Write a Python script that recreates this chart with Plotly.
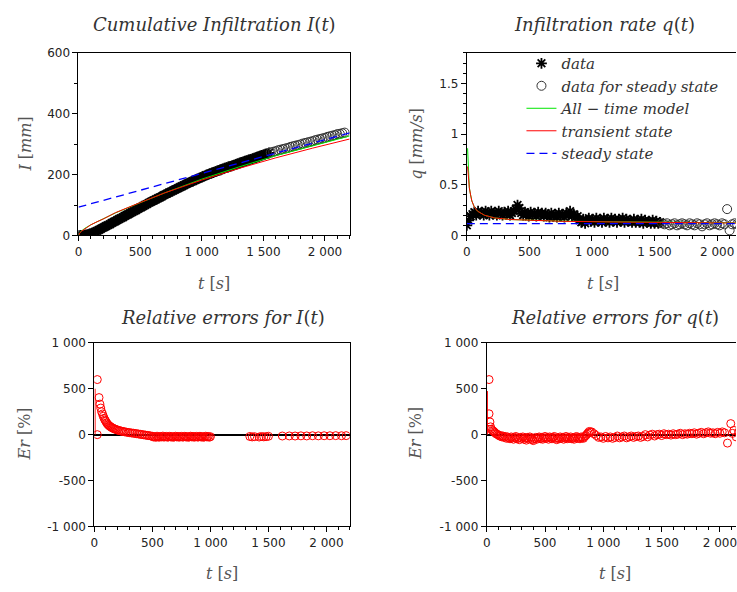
import plotly.graph_objects as go

W, H = 737, 592

# ---------------- data ----------------
# measured data (asterisks), shared time grid [s]
t_data = [0, 15, 30, 45, 60, 75, 90, 105, 120, 135,
          150, 165, 180, 195, 210, 225, 240, 255, 270, 285,
          300, 315, 330, 345, 360, 375, 390, 405, 420, 435,
          450, 465, 480, 495, 510, 525, 540, 555, 570, 585,
          600, 615, 630, 645, 660, 675, 690, 705, 720, 735,
          750, 765, 780, 795, 810, 825, 840, 855, 870, 885,
          900, 915, 930, 945, 960, 975, 990, 1005, 1020, 1035,
          1050, 1065, 1080, 1095, 1110, 1125, 1140, 1155, 1170, 1185,
          1200, 1215, 1230, 1245, 1260, 1275, 1290, 1305, 1320, 1335,
          1350, 1365, 1380, 1395, 1410, 1425, 1440, 1455, 1470, 1485,
          1500, 1515, 1530, 1545]
I_data = [0, 0, 0, 1, 2, 3, 5, 7, 9, 12,
          15, 18, 21, 25, 28, 31, 34, 37, 41, 44,
          47, 51, 54, 57, 60, 64, 67, 70, 74, 77,
          80, 83, 87, 90, 93, 97, 100, 103, 107, 110,
          113, 116, 119, 122, 125, 128, 132, 135, 138, 141,
          144, 147, 150, 153, 156, 159, 162, 165, 168, 171,
          174, 177, 179, 182, 185, 187, 190, 193, 195, 198,
          200, 203, 205, 207, 210, 212, 214, 216, 219, 221,
          223, 225, 227, 229, 231, 233, 235, 238, 240, 242,
          244, 246, 248, 250, 252, 254, 256, 258, 261, 263,
          265, 267, 269, 271]
q_data = [0.10, 0.15, 0.19, 0.21, 0.23, 0.20, 0.24, 0.21, 0.23, 0.20,
          0.24, 0.22, 0.20, 0.24, 0.21, 0.23, 0.20, 0.24, 0.22, 0.20,
          0.23, 0.21, 0.24, 0.20, 0.22, 0.24, 0.26, 0.30, 0.27, 0.22,
          0.20, 0.23, 0.21, 0.19, 0.23, 0.20, 0.22, 0.19, 0.23, 0.20,
          0.22, 0.19, 0.22, 0.20, 0.18, 0.22, 0.19, 0.21, 0.18, 0.22,
          0.19, 0.21, 0.18, 0.22, 0.20, 0.24, 0.19, 0.21, 0.18, 0.19,
          0.15, 0.13, 0.16, 0.12, 0.15, 0.17, 0.14, 0.16, 0.13, 0.17,
          0.14, 0.16, 0.13, 0.17, 0.14, 0.16, 0.13, 0.17, 0.14, 0.16,
          0.13, 0.16, 0.14, 0.17, 0.13, 0.16, 0.14, 0.15, 0.13, 0.16,
          0.13, 0.15, 0.13, 0.16, 0.12, 0.15, 0.13, 0.14, 0.12, 0.15,
          0.12, 0.14, 0.12, 0.13]

# data used for steady state (circles)
t_ss = [1560, 1580, 1600, 1620, 1640, 1660, 1680, 1700, 1720, 1740, 1760, 1780, 1800, 1820,
        1840, 1860, 1880, 1900, 1920, 1940, 1960, 1980, 2000, 2020, 2040, 2060, 2080, 2100,
        2120, 2140, 2160]
I_ss = [273, 275, 277, 280, 282, 284, 286, 288, 291, 293, 295, 297, 299, 302,
        304, 306, 308, 310, 313, 315, 317, 319, 321, 324, 326, 328, 330, 333,
        334, 336, 338]
q_ss = [0.12, 0.11, 0.12, 0.10, 0.11, 0.12, 0.10, 0.11, 0.12, 0.11, 0.10, 0.12, 0.11, 0.10,
        0.12, 0.11, 0.09, 0.11, 0.12, 0.10, 0.11, 0.12, 0.11, 0.10, 0.12, 0.11, 0.26, 0.05,
        0.11, 0.12, 0.11]

# model curves for I(t)
t_Imod = [0, 10, 25, 50, 100, 150, 200, 300, 400, 500, 700, 1000, 1300, 1600, 1900, 2200]
I_all = [0, 9, 15, 23, 35, 45, 54, 74, 91, 107, 140, 185, 225, 262, 295, 327]
I_trans = [0, 8, 14, 22, 35, 45, 54, 75, 92, 108, 140, 182, 220, 255, 287, 317]
t_Isteady = [0, 2200]
I_steady = [93, 337]

# model curves for q(t)
t_qmod = [6, 12, 20, 30, 40, 60, 85, 140, 220, 350, 480, 750, 1170, 1600, 2200]
q_all = [0.86, 0.60, 0.47, 0.40, 0.34, 0.28, 0.24, 0.20, 0.173, 0.157, 0.150, 0.141, 0.135, 0.130, 0.124]
q_trans = [0.68, 0.58, 0.47, 0.40, 0.34, 0.28, 0.24, 0.20, 0.173, 0.157, 0.150, 0.140, 0.133, 0.128, 0.122]
t_qsteady = [0, 2200]
q_steady = [0.117, 0.117]

# relative errors for I(t) [%]
t_erI = [25, 25, 40, 48, 55, 62, 70, 77, 84, 91, 98, 105, 112, 120, 128, 136, 144, 152, 160,
         170, 180, 190, 200, 212, 224, 236, 248, 260, 275, 290, 305, 320, 335, 350, 365, 380,
         395, 410, 425, 440, 455, 470, 485,
         500, 510, 520, 530, 540, 550, 560, 570, 580, 590, 600, 610, 620, 630, 640, 650, 660,
         670, 680, 690, 700, 710, 720, 730, 740, 750, 760, 770, 780, 790, 800, 810, 820, 830,
         840, 850, 860, 870, 880, 890, 900, 910, 920, 930, 940, 950, 960, 970, 980, 990, 1000,
         1340, 1360, 1380, 1420, 1440, 1460, 1480, 1500, 1620, 1680, 1730, 1780, 1830, 1880,
         1930, 1980, 2030, 2080, 2130, 2170]
er_I = [600, 0, 404, 333, 290, 250, 225, 200, 178, 160, 145, 130, 118, 106, 97, 89, 82, 76, 70,
        64, 59, 54, 50, 45, 41, 37, 34, 31, 27, 24, 21, 18, 16, 13, 10, 7,
        4, 1, -2, -5, -8, -11, -14,
        -18, -26, -21, -29, -17, -24, -28, -20, -25, -16, -27, -22, -19, -28, -24, -18, -26,
        -21, -29, -23, -17, -25, -20, -28, -22, -19, -27, -24, -18, -26, -21, -29, -23, -17,
        -25, -20, -28, -22, -19, -27, -24, -18, -26, -21, -29, -23, -17, -25, -20, -28, -22,
        -20, -25, -22, -26, -20, -24, -22, -18, -15, -14, -15, -13, -14, -12,
        -13, -12, -12, -11, -12, -11]
t_erI_start = [6, 6]
er_I_start = [0, 500]

# relative errors for q(t) [%]
t_erq = [20, 20, 28, 33, 40, 48, 56, 64, 72, 80, 90,
         100, 110, 120, 130, 140, 150, 160, 170, 180, 190, 200, 210, 220, 230, 240, 250, 260,
         270, 280, 290, 300, 310, 320, 330, 340, 350, 360, 370, 380, 390, 400, 410, 420, 430,
         440, 450, 460, 470, 480, 490, 500, 510, 520, 530, 540, 550, 560, 570, 580, 590, 600,
         610, 620, 630, 640, 650, 660, 670, 680, 690, 700, 710, 720, 730, 740, 750, 760, 770,
         780, 790, 800, 810, 820, 830, 840, 850, 860, 870, 880, 890, 900,
         920, 940, 960, 980, 1000, 1020, 1040, 1060, 1080, 1100, 1120, 1140, 1160, 1180, 1200,
         1220, 1240, 1260, 1280, 1300, 1320, 1340, 1360, 1380, 1400, 1420, 1440, 1460, 1480,
         1500, 1520, 1540,
         1560, 1580, 1600, 1620, 1640, 1660, 1680, 1700, 1720, 1740, 1760, 1780, 1800, 1820,
         1840, 1860, 1880, 1900, 1920, 1940, 1960, 1980, 2000, 2020, 2040,
         2065, 2093, 2108, 2120, 2140, 2160]
er_q = [600, 227, 138, 85, 60, 45, 40, 30, 20, 10, 5,
        -5, -15, -10, -25, -15, -30, -20, -40, -25, -35, -45, -25, -35, -50, -30, -20, -45,
        -35, -55, -30, -40, -25, -50, -35, -60, -30, -45, -25, -40, -55, -65, -45, -30, -50,
        -35, -25, -45, -30, -50, -35, -20, -40, -30, -50, -25, -35, -45, -30, -20, -40, -55,
        -35, -45, -25, -40, -30, -50, -35, -20, -45, -30, -40, -25, -45, -35, -50, -30, -20,
        -40, -30, -45, -25, -35, -40, -20, -10, 5, 20, 35, 25, 30,
        10, -10, -30, -25, -40, -20, -35, -25, -40, -30, -15, -35, -25, -15, -35,
        -25, -15, -30, -20, -15, -30, -20, 0, -25, -5, 5, -15, 0, 5,
        -10, 10, 0,
        5, -5, 10, 0, 5, 15, 0, 10, 5, 15, 10, 20, 5, 15,
        25, 10, 20, 30, 15, 20, 10, 25, 15, 30, 20,
        -92, 120, 14, 46, -25, 30]
t_erq_start = [6, 6]
er_q_start = [0, 475]

# tick labels
t_tickvals = [0, 500, 1000, 1500, 2000]
t_ticktext = ["0", "500", "1 000", "1 500", "2 000"]
I_tickvals = [0, 200, 400, 600]
I_ticktext = ["0", "200", "400", "600"]
q_tickvals = [0, 0.5, 1, 1.5]
q_ticktext = ["0", "0.5", "1", "1.5"]
er_tickvals = [-1000, -500, 0, 500, 1000]
er_ticktext = ["-1 000", "-500", "0", "500", "1 000"]

# ---------------- figure ----------------
GREEN, RED, BLUE = "#00e600", "#ff0000", "#0000ff"
SERIF = "DejaVu Serif"
SANS = "DejaVu Sans"

def px(x):
    return x / W

def py(y):
    return 1 - y / H

fig = go.Figure()

star = dict(symbol="asterisk", size=9, color="black", line=dict(color="black", width=1.8))
circ = dict(symbol="circle-open", size=9, color="#333333", line=dict(width=1))
rcirc = dict(symbol="circle-open", size=8, color=RED, line=dict(width=1))

# top-left
fig.add_trace(go.Scatter(x=t_data, y=I_data, mode="markers", marker=star, xaxis="x", yaxis="y", showlegend=False))
fig.add_trace(go.Scatter(x=t_ss, y=I_ss, mode="markers", marker=circ, xaxis="x", yaxis="y", showlegend=False))
fig.add_trace(go.Scatter(x=t_Imod, y=I_all, mode="lines", line=dict(color=GREEN, width=1), xaxis="x", yaxis="y", showlegend=False))
fig.add_trace(go.Scatter(x=t_Imod, y=I_trans, mode="lines", line=dict(color=RED, width=1), xaxis="x", yaxis="y", showlegend=False))
fig.add_trace(go.Scatter(x=t_Isteady, y=I_steady, mode="lines", line=dict(color=BLUE, width=1.3, dash="8px,5px"), xaxis="x", yaxis="y", showlegend=False))

# top-right
fig.add_trace(go.Scatter(x=t_data, y=q_data, mode="markers", marker=star, xaxis="x2", yaxis="y2", name="<i>data</i>"))
fig.add_trace(go.Scatter(x=t_ss, y=q_ss, mode="markers", marker=circ, xaxis="x2", yaxis="y2", name="<i>data for steady state</i>"))
fig.add_trace(go.Scatter(x=t_qmod, y=q_all, mode="lines", line=dict(color=GREEN, width=1), xaxis="x2", yaxis="y2", name="<i>All − time model</i>"))
fig.add_trace(go.Scatter(x=t_qmod, y=q_trans, mode="lines", line=dict(color=RED, width=1), xaxis="x2", yaxis="y2", name="<i>transient state</i>"))
fig.add_trace(go.Scatter(x=t_qsteady, y=q_steady, mode="lines", line=dict(color=BLUE, width=1.3, dash="8px,5px"), xaxis="x2", yaxis="y2", name="<i>steady state</i>"))

# bottom-left
fig.add_trace(go.Scatter(x=t_erI_start, y=er_I_start, mode="lines", line=dict(color=RED, width=1), xaxis="x3", yaxis="y3", showlegend=False))
fig.add_trace(go.Scatter(x=t_erI, y=er_I, mode="markers", marker=rcirc, xaxis="x3", yaxis="y3", showlegend=False))

# bottom-right
fig.add_trace(go.Scatter(x=t_erq_start, y=er_q_start, mode="lines", line=dict(color=RED, width=1), xaxis="x4", yaxis="y4", showlegend=False))
fig.add_trace(go.Scatter(x=t_erq, y=er_q, mode="markers", marker=rcirc, xaxis="x4", yaxis="y4", showlegend=False))

tickfont = dict(family=SANS, size=12, color="#222222")
common = dict(showgrid=False, showline=True, linecolor="black", linewidth=1, ticks="outside",
              ticklen=5, tickcolor="black", tickwidth=1, tickfont=tickfont, zeroline=False)

def xa(domain, rng, anchor, mirror):
    return dict(common, domain=domain, range=rng, anchor=anchor, mirror=mirror,
                tickmode="array", tickvals=t_tickvals, ticktext=t_ticktext,
                ticklabeloverflow="allow",
                minor=dict(tickmode="linear", tick0=0, dtick=100, ticks="outside", ticklen=3,
                           tickcolor="black", showgrid=False))

top_y = [py(234), py(47)]
bot_y = [py(532), py(344)]

fig.update_layout(
    width=W, height=H,
    margin=dict(l=0, r=0, t=0, b=0),
    paper_bgcolor="white", plot_bgcolor="white",
    xaxis=xa([px(75), px(348)], [0, 2200], "y", True),
    xaxis2=xa([px(466), 1.0], [0, 2151], "y2", True),
    xaxis3=xa([px(91), px(348)], [0, 2200], "y3", True),
    xaxis4=xa([px(486), 1.0], [0, 2138], "y4", True),
    yaxis=dict(common, domain=top_y, range=[0, 600], anchor="x", mirror=True,
               tickmode="array", tickvals=I_tickvals, ticktext=I_ticktext,
               minor=dict(tickmode="linear", tick0=0, dtick=100, ticks="outside", ticklen=3, tickcolor="black")),
    yaxis2=dict(common, domain=top_y, range=[0, 1.8], anchor="x2", mirror=False,
                tickmode="array", tickvals=q_tickvals, ticktext=q_ticktext,
                minor=dict(tickmode="linear", tick0=0, dtick=0.1, ticks="outside", ticklen=3, tickcolor="black")),
    yaxis3=dict(common, domain=bot_y, range=[-1000, 1000], anchor="x3", mirror=True,
                tickmode="array", tickvals=er_tickvals, ticktext=er_ticktext,
                zeroline=True, zerolinecolor="black", zerolinewidth=1.5),
    yaxis4=dict(common, domain=bot_y, range=[-1000, 1000], anchor="x4", mirror=False,
                tickmode="array", tickvals=er_tickvals, ticktext=er_ticktext,
                zeroline=True, zerolinecolor="black", zerolinewidth=1.5),
    legend=dict(x=px(521), y=py(41), xanchor="left", yanchor="top",
                bgcolor="rgba(0,0,0,0)", borderwidth=0,
                font=dict(family=SERIF, size=15, color="#333333")),
)

title_font = dict(family=SERIF, size=18, color="#333333")
label_font = dict(family=SERIF, size=16, color="#555555")

annos = [
    (212, 18, "<i>Cumulative Infiltration I</i>(<i>t</i>)", title_font, 0),
    (605, 18, "<i>Infiltration rate q</i>(<i>t</i>)", title_font, 0),
    (220, 318, "<i>Relative errors for I</i>(<i>t</i>)", title_font, 0),
    (615, 318, "<i>Relative errors for q</i>(<i>t</i>)", title_font, 0),
    (211, 283, "<i>t</i> [<i>s</i>]", label_font, 0),
    (603, 283, "<i>t</i> [<i>s</i>]", label_font, 0),
    (219, 580, "<i>t</i> [<i>s</i>]", label_font, 0),
    (615, 580, "<i>t</i> [<i>s</i>]", label_font, 0),
    (22, 140, "<i>I</i> [<i>mm</i>]", label_font, -90),
    (416, 140, "<i>q</i> [<i>mm/s</i>]", label_font, -90),
    (21, 437, "<i>Er</i> [%]", label_font, -90),
    (414, 437, "<i>Er</i> [%]", label_font, -90),
]
for x, y, text, font, ang in annos:
    fig.add_annotation(x=px(x), y=py(y), xref="paper", yref="paper", text=text,
                       showarrow=False, font=font, textangle=ang,
                       xanchor="center", yanchor="middle")

fig.write_html("out.html", config={"displayModeBar": False},
               post_script="document.body.style.margin='0';document.body.style.padding='0';"
                           "document.body.style.overflow='hidden';")
